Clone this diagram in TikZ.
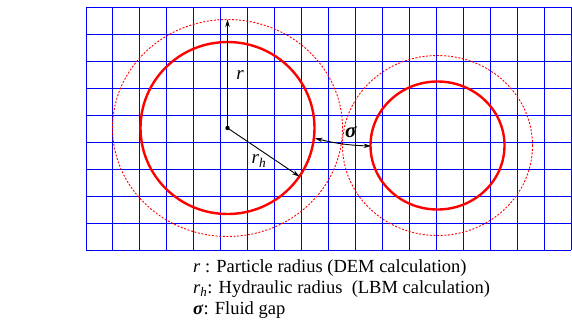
\documentclass[tikz,border=0pt]{standalone}
\usepackage{fontspec}
\setmainfont{Liberation Serif}
\usetikzlibrary{arrows.meta}
\begin{document}
\begin{tikzpicture}[x=1pt,y=-1pt,
  gridline/.style={blue,line width=1pt},
  solidcirc/.style={red,line width=2.4pt},
  dashcirc/.style={red,line width=0.9pt,dash pattern=on 2pt off 1.6pt},
  radarrow/.style={black,line width=0.9pt,-{Stealth[length=7.5pt,width=4.5pt]}},
  gaparrow/.style={black,line width=0.9pt,{Stealth[length=7.5pt,width=4.5pt]}-{Stealth[length=7.5pt,width=4.5pt]}},
  legend/.style={anchor=base west,inner sep=0pt,font=\fontsize{18.5}{21}\selectfont},
  lbl/.style={inner sep=0pt,font=\fontsize{19}{21}\selectfont}]
\useasboundingbox (0,0) rectangle (572,330);
% grid
\foreach \i in {0,...,18} \draw[gridline] (86+26.95*\i,7.3) -- (86+26.95*\i,250);
\foreach \j in {0,...,9} \draw[gridline] (86,7.3+26.97*\j) -- (571.1,7.3+26.97*\j);
% particles
\coordinate (c1) at (227.5,128);
\coordinate (c2) at (437.5,145.5);
\draw[dashcirc] (c1) ellipse [x radius=115pt, y radius=108.5pt];
\draw[solidcirc] (c1) ellipse [x radius=87pt, y radius=86pt];
\draw[dashcirc] (c2) ellipse [x radius=95pt, y radius=90pt];
\draw[solidcirc] (c2) ellipse [x radius=67pt, y radius=64pt];
% radii
\coordinate (rtop) at (227.5,19.5);
\coordinate (rhend) at (299.5,176.5);
\coordinate (gapl) at (315,138.3);
\coordinate (gapr) at (371,146);
\fill (c1) circle [radius=2.2pt];
\draw[radarrow] (c1) -- (rtop);
\draw[radarrow] (c1) -- (rhend);
\draw[gaparrow] (gapl) to[bend right=6] (gapr);
\node[lbl] (lr) at (240,75) {\textit{r}};
\node[lbl] (lrh) at (259,161) {\textit{r\textsubscript{h}}};
\node[lbl,font=\fontsize{21}{21}\selectfont] (ls) at (351,132) {\textbf{\textit{σ}}};
% legend
\node[legend] (l1) at (193,272) {\textit{r} : Particle radius (DEM calculation)};
\node[legend] (l2) at (193,293) {\textit{r\textsubscript{h}}: Hydraulic radius\ \ (LBM calculation)};
\node[legend] (l3) at (193,314) {\textbf{\textit{σ}}: Fluid gap};
\end{tikzpicture}
\end{document}
